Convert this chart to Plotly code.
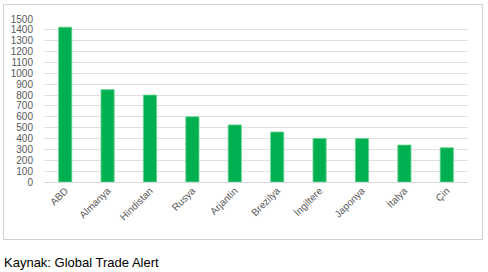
import plotly.graph_objects as go

countries = ["ABD", "Almanya", "Hindistan", "Rusya", "Arjantin", "Brezilya",
             "İngiltere", "Japonya", "İtalya", "Çin"]
values = [1425, 850, 800, 600, 525, 460, 400, 400, 340, 315]
y_ticks = list(range(0, 1600, 100))
caption = "Kaynak: Global Trade Alert"

W, H = 488, 272
L, R, T, B = 44, 20, 19, 90
pw, ph = W - L - R, H - T - B

def px_x(p):
    return (p - L) / pw

def px_y(p):
    return (H - B - p) / ph

fig = go.Figure(go.Bar(
    x=countries, y=values,
    marker=dict(color="#00b050", line=dict(color="#5fd38a", width=0.8)),
    width=0.31,
))

fig.update_layout(
    width=W, height=H,
    margin=dict(l=L, r=R, t=T, b=B),
    paper_bgcolor="white", plot_bgcolor="white",
    showlegend=False,
    font=dict(family="Liberation Sans, Arial, sans-serif", size=10, color="#595959"),
    xaxis=dict(tickangle=-45, showgrid=False, showline=False, ticks="",
               tickfont=dict(size=10, color="#595959")),
    yaxis=dict(range=[0, 1500], tickvals=y_ticks, ticktext=[str(v) for v in y_ticks],
               showgrid=True, gridcolor="#e0e0e0", gridwidth=1,
               zeroline=True, zerolinecolor="#d9d9d9", zerolinewidth=1,
               ticks="", ticklabelstandoff=10,
               tickfont=dict(size=10, color="#595959")),
    shapes=[dict(type="rect", xref="paper", yref="paper",
                 x0=px_x(3.5), x1=px_x(482.5), y0=px_y(239.5), y1=px_y(4.5),
                 line=dict(color="#d0d0d0", width=1), fillcolor="rgba(0,0,0,0)",
                 layer="below")],
    annotations=[dict(text=caption, xref="paper", yref="paper",
                      x=px_x(2), y=px_y(262), xanchor="left", yanchor="middle",
                      showarrow=False,
                      font=dict(family="Liberation Sans, Arial, sans-serif", size=13, color="#000000"))],
)

fig.write_html("out.html")
